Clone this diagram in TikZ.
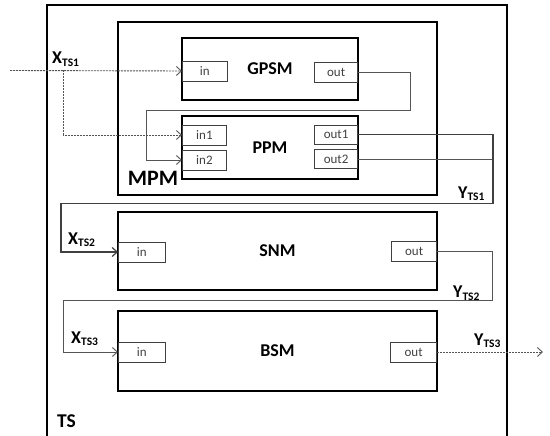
\documentclass[tikz,border=0pt]{standalone}
\usepackage{fontspec}
\setmainfont{Carlito}
\usetikzlibrary{arrows.meta}
\definecolor{wire}{HTML}{555555}
\definecolor{portc}{HTML}{404040}
\tikzset{
  modbox/.style={draw=black, line width=2pt, inner sep=0pt, font=\fontsize{18}{20}\selectfont\bfseries},
  portbox/.style={draw=portc, line width=0.8pt, inner sep=0pt, minimum height=20pt, font=\fontsize{13}{14}\selectfont, text=portc},
  wireline/.style={draw=wire, line width=0.9pt},
  dashwire/.style={draw=wire, line width=0.9pt, dash pattern=on 2pt off 1pt},
  arr/.style={-{Straight Barb[length=5pt,width=9pt]}},
  siglabel/.style={inner sep=0pt, anchor=base west, font=\fontsize{18}{20}\selectfont\bfseries},
}
\newcommand{\sig}[2]{#1{\fontsize{11.5}{12}\selectfont\raisebox{-2.5pt}{#2}}}
\begin{document}
\begin{tikzpicture}[x=1pt,y=-1pt]
\useasboundingbox (0,0) rectangle (550,436);
% TS outer box
\draw[line width=2pt] (47,440) -- (47,5) -- (507,5) -- (507,440);
\node[inner sep=0pt, font=\fontsize{19.5}{21}\selectfont\bfseries] (tslabel) at (66.5,421.5) {TS};
% MPM
\node[modbox, minimum width=319pt, minimum height=173pt] (mpm) at (277.5,108.5) {};
\node[inner sep=0pt, font=\fontsize{22}{24}\selectfont\bfseries] (mpmlabel) at (153,178.5) {MPM};
% GPSM
\node[modbox, minimum width=176pt, minimum height=62pt] (gpsm) at (270,69) {GPSM};
\node[portbox, minimum width=45pt, anchor=west] (gin) at (182,71) {in};
\node[portbox, minimum width=43pt, anchor=east] (gout) at (358,72) {out};
% PPM
\node[modbox, minimum width=176pt, minimum height=63pt] (ppm) at (270,147.5) {PPM};
\node[portbox, minimum width=44pt, anchor=west] (in1) at (182,135) {in1};
\node[portbox, minimum width=44pt, anchor=west] (in2) at (182,160) {in2};
\node[portbox, minimum width=43pt, minimum height=19pt, anchor=east] (out1) at (358,134.5) {out1};
\node[portbox, minimum width=43pt, minimum height=19pt, anchor=east] (out2) at (358,159) {out2};
% SNM
\node[modbox, minimum width=319pt, minimum height=78pt] (snm) at (277.5,251) {SNM};
\node[portbox, minimum width=47pt, anchor=west] (sin) at (118,252) {in};
\node[portbox, minimum width=45pt, anchor=east] (sout) at (437,251.5) {out};
% BSM
\node[modbox, minimum width=319pt, minimum height=80pt] (bsm) at (277.5,351) {BSM};
\node[portbox, minimum width=47pt, anchor=west] (bin) at (118,352) {in};
\node[portbox, minimum width=46pt, anchor=east] (bout) at (437,352) {out};
% signal labels
\node[siglabel] (x1) at (52,64) {\sig{X}{TS1}};
\node[siglabel] (x2) at (68,244) {\sig{X}{TS2}};
\node[siglabel] (x3) at (71,343) {\sig{X}{TS3}};
\node[siglabel] (y1) at (458,198) {\sig{Y}{TS1}};
\node[siglabel] (y2) at (453,298) {\sig{Y}{TS2}};
\node[siglabel] (y3) at (474,345) {\sig{Y}{TS3}};
% coordinates
\coordinate (src) at (10,70.5);
\coordinate (br) at (63,70.5);
\coordinate (sink) at (543,352);
% wires
\draw[dashwire, arr] (src) -- (gin.west);
\draw[dashwire, arr] (br) -- (63,135) -- (in1.west);
\draw[wireline, arr] (gout.east) -- (410,72) -- (410,110) -- (146,110) -- (146,160) -- (in2.west);
\draw[wireline] (out2.east) -- (493,159);
\draw[wireline, line width=1.2pt, draw=black!75, arr] (out1.east) -- (493,134.5) -- (493,203.5) -- (61,203.5) -- (61,252) -- (sin.west);
\draw[wireline, arr] (sout.east) -- (492,251.5) -- (492,300) -- (63,300) -- (63,352) -- (bin.west);
\draw[dashwire, arr] (bout.east) -- (sink);
\end{tikzpicture}
\end{document}
